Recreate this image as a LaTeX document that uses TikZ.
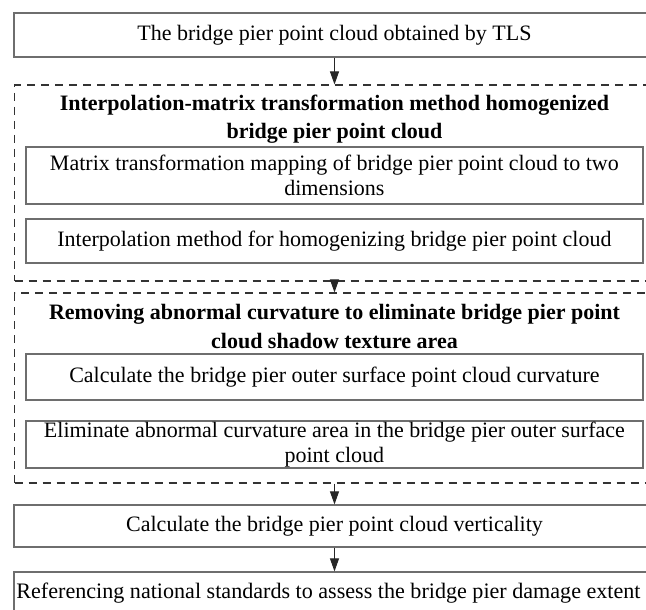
\documentclass[tikz,border=0pt]{standalone}
\usepackage{fontspec}
\setmainfont{Liberation Serif}
\usetikzlibrary{arrows.meta}
\definecolor{boxgray}{RGB}{110,110,110}
\begin{document}
\begin{tikzpicture}[x=1pt,y=-1pt,
  solidbox/.style={draw=boxgray,line width=1.2pt,rectangle,inner sep=0pt,anchor=center,align=center,
     font=\fontsize{22}{25}\selectfont},
  groupbox/.style={draw=black!80,line width=1.1pt,dash pattern=on 8pt off 6pt,rectangle,inner sep=0pt,anchor=center},
  titletext/.style={inner sep=0pt,align=center,font=\fontsize{22}{28}\selectfont\bfseries},
  flow/.style={draw=black!85,line width=1pt,-{Triangle[length=13pt,width=9pt]}}
]
\useasboundingbox (0,0) rectangle (646,610);
\clip (0,0) rectangle (646,610);
\fill[white] (0,0) rectangle (646,610);

\node[solidbox,minimum width=641pt,minimum height=44pt] (b1) at (334.5,35)
  {The bridge pier point cloud obtained by TLS};

\node[groupbox,minimum width=640pt,minimum height=196pt] (g1) at (334.5,183) {};
\node[titletext] (t1) at (334.5,119)
  {Interpolation-matrix transformation method homogenized\\bridge pier point cloud};
\node[solidbox,minimum width=617pt,minimum height=57pt] (a) at (334.4,175.5)
  {Matrix transformation mapping of bridge pier point cloud to two\\dimensions};
\node[solidbox,minimum width=617pt,minimum height=44pt] (b) at (334.4,241)
  {Interpolation method for homogenizing bridge pier point cloud};

\node[groupbox,minimum width=640pt,minimum height=190pt] (g2) at (334.5,388) {};
\node[titletext,font=\fontsize{22}{30}\selectfont\bfseries] (t2) at (334.5,326.5)
  {Removing abnormal curvature to eliminate bridge pier point\\cloud shadow texture area};
\node[solidbox,minimum width=617pt,minimum height=46pt] (c) at (334.4,377)
  {Calculate the bridge pier outer surface point cloud curvature};
\node[solidbox,minimum width=617pt,minimum height=47pt] (d) at (334.4,444.5)
  {Eliminate abnormal curvature area in the bridge pier outer surface\\point cloud};

\node[solidbox,minimum width=641pt,minimum height=42pt] (e) at (334.5,526)
  {Calculate the bridge pier point cloud verticality};
\node[solidbox,minimum width=641pt,minimum height=43pt] (f) at (334.5,593.5) {};
\node[inner sep=0pt,font=\fontsize{22.1}{25}\selectfont] (ft) at (328.5,593.5)
  {Referencing national standards to assess the bridge pier damage extent};

\draw[flow] (b1.south) -- (g1.north);
\draw[flow] (g1.south) -- (g2.north);
\draw[flow] (g2.south) -- (e.north);
\draw[flow] (e.south) -- (f.north);
\end{tikzpicture}
\end{document}
